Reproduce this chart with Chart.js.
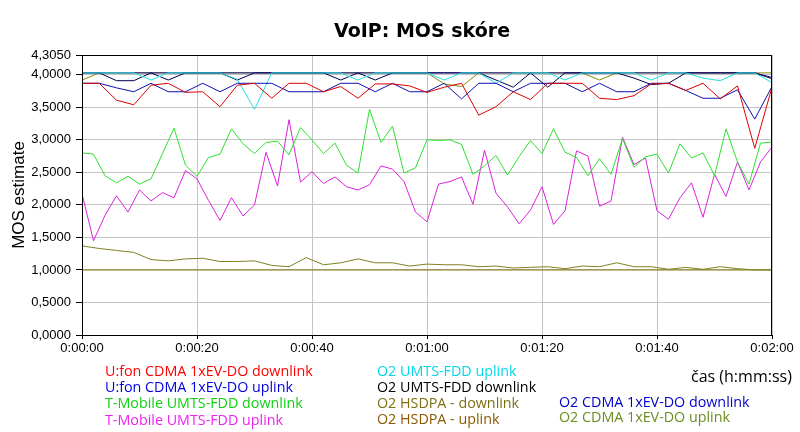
<!DOCTYPE html>
<html>
<head>
<meta charset="utf-8">
<script src="https://cdn.jsdelivr.net/npm/chart.js@4/dist/chart.umd.min.js"></script>
<style>
  body { margin: 0; background: #fff; }
  #wrap { position: relative; width: 800px; height: 432px; overflow: hidden; }
  #titulek { position: absolute; left: 0; width: 844px; top: 19px; text-align: center;
             font: bold 19px "DejaVu Sans", sans-serif; color: #000; }
  .leg { position: absolute; font: 14.3px "Open Sans", sans-serif; line-height: 16px; white-space: nowrap; }
</style>
</head>
<body>
<div id="wrap">
  <canvas id="graf" width="800" height="432"></canvas>
  <div id="titulek">VoIP: MOS skóre</div>
  <div class="leg" style="left:105px;top:363px;color:#ff0000">U:fon CDMA 1xEV-DO downlink</div>
  <div class="leg" style="left:105px;top:379px;color:#0000e0">U:fon CDMA 1xEV-DO uplink</div>
  <div class="leg" style="left:105px;top:395px;color:#10d010">T-Mobile UMTS-FDD downlink</div>
  <div class="leg" style="left:105px;top:412px;color:#ee22ee">T-Mobile UMTS-FDD uplink</div>
  <div class="leg" style="left:377px;top:363px;color:#00d8e8">O2 UMTS-FDD uplink</div>
  <div class="leg" style="left:377px;top:379px;color:#000000">O2 UMTS-FDD downlink</div>
  <div class="leg" style="left:377px;top:395px;color:#7f6f10">O2 HSDPA - downlink</div>
  <div class="leg" style="left:377px;top:411px;color:#8b5a00">O2 HSDPA - uplink</div>
  <div class="leg" style="left:559px;top:394px;color:#0000cc">O2 CDMA 1xEV-DO downlink</div>
  <div class="leg" style="left:559px;top:409px;color:#6b8e23">O2 CDMA 1xEV-DO uplink</div>
  <div class="leg" style="left:691px;top:367px;color:#000;font-size:16px;line-height:18px">čas (h:mm:ss)</div>
</div>
<script>
// casy mereni (s)
const casy2 = [0,2,4,6,8,10,12,14,16,18,20,22,24,26,28,30,32,34,36,38,40,42,44,46,48,50,52,54,56,58,
               60,62,64,66,68,70,72,74,76,78,80,82,84,86,88,90,92,94,96,98,100,102,104,106,108,110,
               112,114,116,118,120];
const casy3 = [0,3,6,9,12,15,18,21,24,27,30,33,36,39,42,45,48,51,54,57,60,63,66,69,72,75,78,81,84,87,
               90,93,96,99,102,105,108,111,114,117,120];
const yTicks = [0, 0.5, 1, 1.5, 2, 2.5, 3, 3.5, 4, 4.305];

// MOS hodnoty
const ufonDown = [3.87,3.87,3.61,3.54,3.84,3.87,3.73,3.74,3.51,3.84,3.87,3.64,3.87,3.87,3.74,3.82,3.64,3.86,3.86,3.83,
                  3.73,3.81,3.87,3.38,3.51,3.74,3.62,3.87,3.87,3.87,3.64,3.62,3.68,3.86,3.87,3.76,3.87,3.63,3.83,2.87,3.81];
const ufonUp = [3.87,3.87,3.80,3.74,3.87,3.74,3.74,3.87,3.74,3.87,3.87,3.87,3.74,3.74,3.74,3.87,3.87,3.74,3.87,3.74,
                3.74,3.87,3.63,3.87,3.87,3.74,3.87,3.87,3.87,3.74,3.87,3.74,3.74,3.87,3.87,3.76,3.64,3.64,3.77,3.32,3.82];
const tmobDown = [2.80,2.78,2.45,2.34,2.44,2.32,2.40,2.79,3.18,2.61,2.44,2.73,2.78,3.17,2.94,2.79,2.96,2.98,2.77,3.19,
                  3.00,2.79,2.95,2.61,2.49,3.47,2.96,3.21,2.49,2.57,3.00,2.99,3.00,2.93,2.47,2.60,2.76,2.46,2.74,2.99,
                  2.79,3.17,2.81,2.73,2.45,2.71,2.47,3.02,2.58,2.74,2.78,2.49,2.94,2.72,2.80,2.45,3.17,2.66,2.32,2.95,2.97];
const tmobUp = [2.17,1.45,1.84,2.14,1.89,2.23,2.06,2.19,2.11,2.53,2.40,2.07,1.76,2.11,1.83,2.00,2.81,2.29,3.31,2.35,
                2.51,2.33,2.43,2.28,2.23,2.31,2.60,2.55,2.36,1.89,1.74,2.32,2.36,2.43,2.01,2.84,2.18,1.97,1.71,1.92,
                2.28,1.70,1.91,2.83,2.75,1.98,2.06,3.04,2.62,2.72,1.91,1.78,2.11,2.34,1.81,2.47,2.13,2.66,2.23,2.66,2.89];
const o2UmtsUp = [4.03,4.03,4.03,4.03,3.92,4.03,4.03,4.03,4.03,3.93,3.47,4.03,4.03,4.03,4.03,4.03,3.92,4.03,4.03,4.03,
                  4.03,3.92,4.03,4.03,3.87,4.03,4.03,4.03,3.92,4.03,4.03,4.03,4.03,3.92,4.03,4.03,3.95,3.91,4.03,4.03,3.88];
const o2UmtsDown = [4.03,4.03,3.91,3.91,4.03,3.92,4.03,4.03,4.03,3.92,4.03,4.03,4.03,4.03,4.03,3.92,4.03,3.92,4.03,4.03,
                    4.03,4.03,4.03,4.03,3.92,3.81,4.03,3.81,4.03,4.03,4.03,4.03,3.95,3.85,3.87,4.03,4.03,4.03,4.03,4.03,3.94];
const hsdpaDown = [1.37,1.33,1.30,1.27,1.16,1.14,1.17,1.18,1.13,1.13,1.14,1.07,1.05,1.19,1.08,1.11,1.17,1.11,1.11,1.06,
                   1.09,1.08,1.08,1.05,1.06,1.03,1.04,1.05,1.02,1.06,1.05,1.11,1.05,1.05,1.01,1.04,1.01,1.05,1.02,1.00,1.00];
const hsdpaUp = [1.00,1.00,1.00,1.00,1.00,1.00,1.00,1.00,1.00,1.00,1.00,1.00,1.00,1.00,1.00,1.00,1.00,1.00,1.00,1.00,
                 1.00,1.00,1.00,1.00,1.00,1.00,1.00,1.00,1.00,1.00,1.00,1.00,1.00,1.00,1.00,1.00,1.00,1.00,1.00,1.00,1.00];
const o2CdmaDown = [4.03,4.03,4.03,4.03,4.03,4.03,4.03,4.03,4.03,4.03,4.03,4.03,4.03,4.03,4.03,4.03,4.03,4.03,4.03,4.03,
                    4.03,4.03,4.03,4.03,4.03,4.03,4.03,4.03,4.03,4.03,4.03,4.03,4.03,4.03,4.03,4.03,4.03,4.03,4.03,4.03,3.96];
const o2CdmaUp = [3.92,4.03,4.03,4.03,4.03,4.03,4.03,4.03,4.03,4.03,4.03,4.03,4.03,4.03,4.03,4.03,4.03,4.03,4.03,4.03,
                  4.03,3.86,3.82,4.03,4.03,4.03,4.03,4.03,4.03,4.03,3.92,4.03,4.03,4.03,4.03,4.03,4.03,4.03,4.03,4.03,4.03];

function body(casy, hodnoty) {
    return casy.map((t, i) => ({ x: t, y: hodnoty[i] }));
}

function rada(popis, casy, hodnoty, barva) {
    return {
        label: popis,
        data: body(casy, hodnoty),
        borderColor: barva,
        borderWidth: 1,
        pointRadius: 0,
        tension: 0,
        fill: false
    };
}

function formatCas(t) {
    const pad = n => String(n).padStart(2, "0");
    return Math.floor(t / 3600) + ":" + pad(Math.floor(t / 60) % 60) + ":" + pad(t % 60);
}

// ramecek kolem plochy grafu
const ramecek = {
    id: "ramecek",
    afterDatasetsDraw(chart) {
        const { ctx, chartArea: a } = chart;
        ctx.save();
        ctx.strokeStyle = "#000";
        ctx.lineWidth = 1;
        ctx.strokeRect(a.left + 0.5, a.top + 0.5, a.right - a.left - 1, a.bottom - a.top);
        ctx.restore();
    }
};

const ctx = document.getElementById("graf").getContext("2d");
new Chart(ctx, {
    type: "line",
    data: {
        datasets: [
            rada("U:fon CDMA 1xEV-DO downlink", casy3, ufonDown, "#dd0000"),
            rada("U:fon CDMA 1xEV-DO uplink", casy3, ufonUp, "#1010b0"),
            rada("T-Mobile UMTS-FDD downlink", casy2, tmobDown, "#2ee02e"),
            rada("T-Mobile UMTS-FDD uplink", casy2, tmobUp, "#dd22dd"),
            rada("O2 UMTS-FDD uplink", casy3, o2UmtsUp, "#22e0e0"),
            rada("O2 UMTS-FDD downlink", casy3, o2UmtsDown, "#000050"),
            rada("O2 HSDPA - downlink", casy3, hsdpaDown, "#808020"),
            rada("O2 HSDPA - uplink", casy3, hsdpaUp, "#807000"),
            rada("O2 CDMA 1xEV-DO downlink", casy3, o2CdmaDown, "#101090"),
            rada("O2 CDMA 1xEV-DO uplink", casy3, o2CdmaUp, "#8a8a10")
        ]
    },
    options: {
        responsive: false,
        animation: false,
        layout: { padding: { top: 55, right: 28, left: 0, bottom: 0 } },
        plugins: {
            legend: { display: false },
            title: { display: false },
            tooltip: { enabled: false }
        },
        scales: {
            x: {
                type: "linear",
                min: 0,
                max: 120,
                afterFit: s => { s.height = 97; },
                grid: { color: "#c4c4c4", tickColor: "#000", tickLength: 4 },
                border: { color: "#000" },
                ticks: {
                    stepSize: 20,
                    padding: 2,
                    color: "#000",
                    font: { family: "Liberation Sans", size: 13 },
                    maxRotation: 0,
                    callback: v => formatCas(v)
                }
            },
            y: {
                min: 0,
                max: 4.305,
                afterFit: s => { s.width = 82; },
                afterBuildTicks: s => { s.ticks = yTicks.map(v => ({ value: v })); },
                grid: { color: "#c4c4c4", tickColor: "#000", tickLength: 6 },
                border: { color: "#000" },
                ticks: {
                    padding: 5,
                    color: "#000",
                    font: { family: "Liberation Sans", size: 13 },
                    callback: v => v.toFixed(4).replace(".", ",")
                },
                title: {
                    display: true,
                    text: "MOS estimate",
                    color: "#000",
                    font: { family: "Liberation Sans", size: 17 },
                    padding: { top: 9, bottom: 0 }
                }
            }
        }
    },
    plugins: [ramecek]
});
</script>
</body>
</html>
